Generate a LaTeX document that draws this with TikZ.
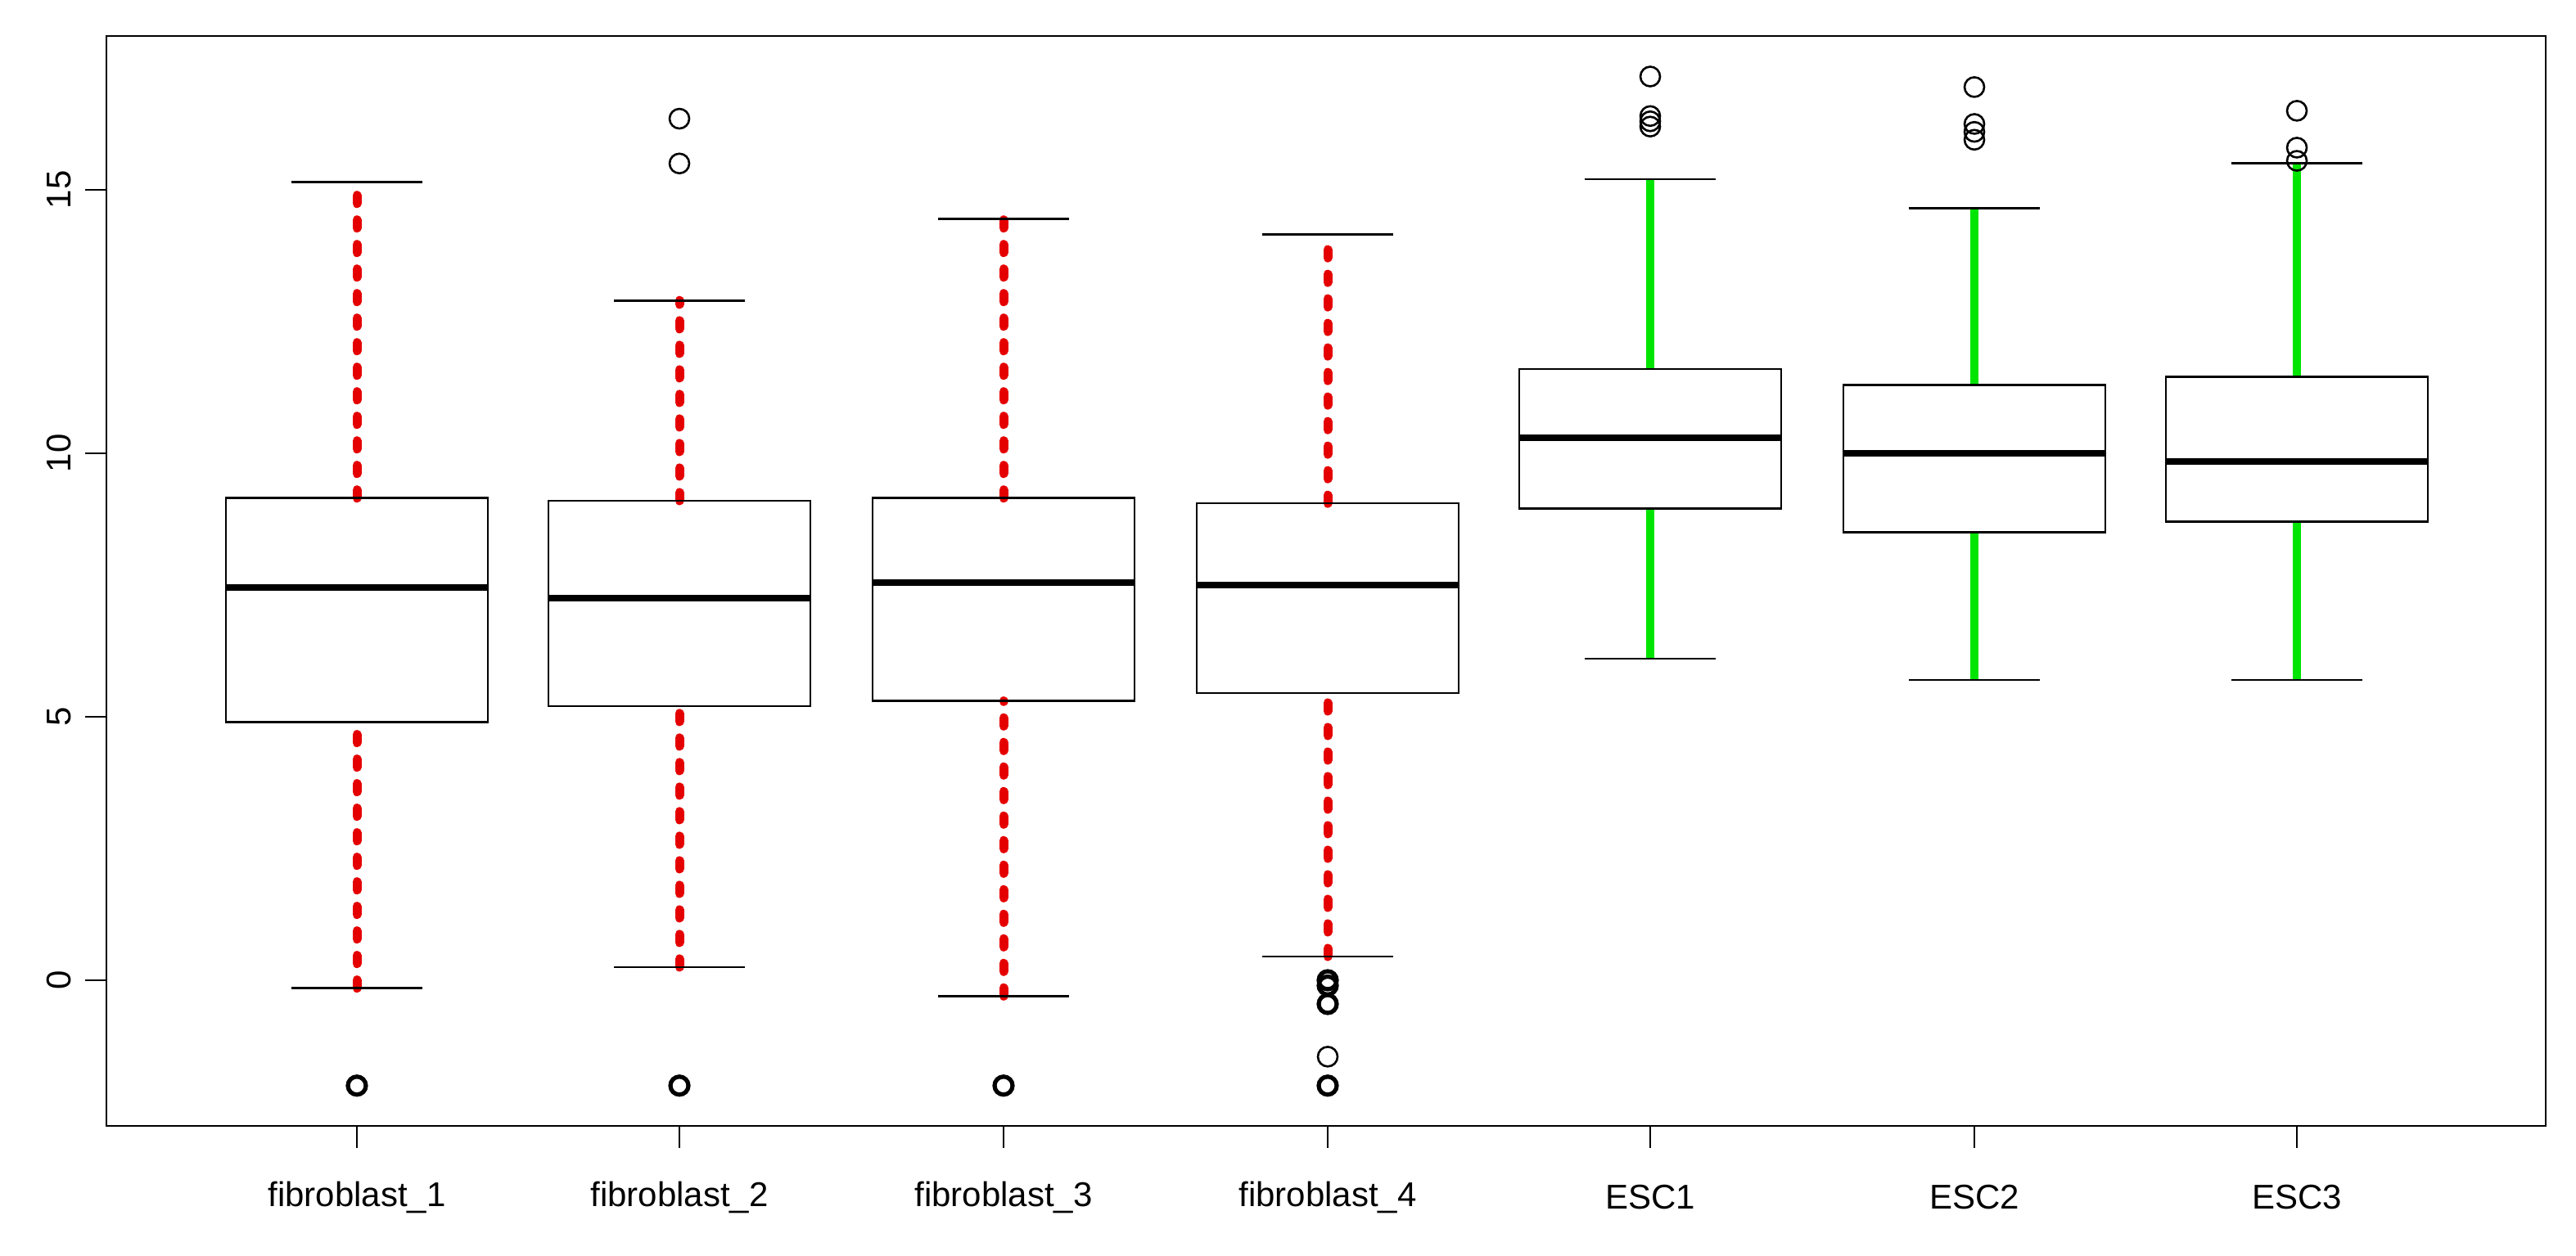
\documentclass[tikz,border=0pt]{standalone}
\usepackage{fontspec}
\setmainfont{Liberation Sans}
\begin{document}
\begin{tikzpicture}[x=1pt,y=1pt,
  frame/.style={line width=1.3pt},
  boxl/.style={line width=1.3pt},
  med/.style={line width=4pt},
  redw/.style={red!90!black,line width=5.5pt,line cap=round,dash pattern=on 5pt off 10pt},
  greenw/.style={green!90!black,line width=5pt},
  outl/.style={line width=1.3pt},
  outlb/.style={line width=2.6pt},
  lab/.style={font=\fontsize{21}{25}\selectfont}]
\useasboundingbox (0,0) rectangle (1573.5,767.5);
\fill[white] (0,0) rectangle (1573.5,767.5);
\draw[frame] (65,79.5) rectangle (1555,745.5);
\foreach \v in {0,5,10,15}{
  \draw[frame] (65,168.5+32.2*\v) -- (52,168.5+32.2*\v);
  \node[lab,rotate=90] at (36,168.5+32.2*\v) {\v};
}
\foreach \x/\t in {218/fibroblast\_1,415/fibroblast\_2,613/fibroblast\_3,811/fibroblast\_4,1008/ESC1,1206/ESC2,1403/ESC3}{
  \draw[frame] (\x,79.5) -- (\x,66);
  \node[lab] at (\x,36) {\t};
}
\begin{scope}[y=32.2pt,yshift=168.5pt]
\def\bx#1#2#3#4#5#6#7{%
  \draw[#7] (#1,#2) -- (#1,#3);
  \draw[#7] (#1,#5) -- (#1,#6);
  \draw[boxl] (#1-40,#2) -- (#1+40,#2);
  \draw[boxl] (#1-40,#6) -- (#1+40,#6);
  \draw[boxl] (#1-80,#3) rectangle (#1+80,#5);
  \draw[med] (#1-80,#4) -- (#1+80,#4);
}
\bx{218}{-0.15}{4.9}{7.45}{9.15}{15.15}{redw}
\bx{415}{0.25}{5.2}{7.25}{9.1}{12.9}{redw}
\bx{613}{-0.3}{5.3}{7.55}{9.15}{14.45}{redw}
\bx{811}{0.45}{5.45}{7.5}{9.05}{14.15}{redw}
\bx{1008}{6.1}{8.95}{10.3}{11.6}{15.2}{greenw}
\bx{1206}{5.7}{8.5}{10.0}{11.3}{14.65}{greenw}
\bx{1403}{5.7}{8.7}{9.85}{11.45}{15.5}{greenw}
\foreach \x/\v in {415/16.35,415/15.5,811/-1.45,
  1008/17.15,1008/16.4,1008/16.3,1008/16.2,1206/16.95,1206/16.25,1206/16.1,1206/15.95,1403/16.5,1403/15.8,1403/15.55}{
  \draw[outl] (\x,\v) circle[radius=6pt];
}
\foreach \x/\v in {218/-2,415/-2,613/-2,811/-2,811/0,811/-0.1,811/-0.45}{
  \draw[outlb] (\x,\v) circle[radius=5.5pt];
}
\end{scope}
\end{tikzpicture}
\end{document}
